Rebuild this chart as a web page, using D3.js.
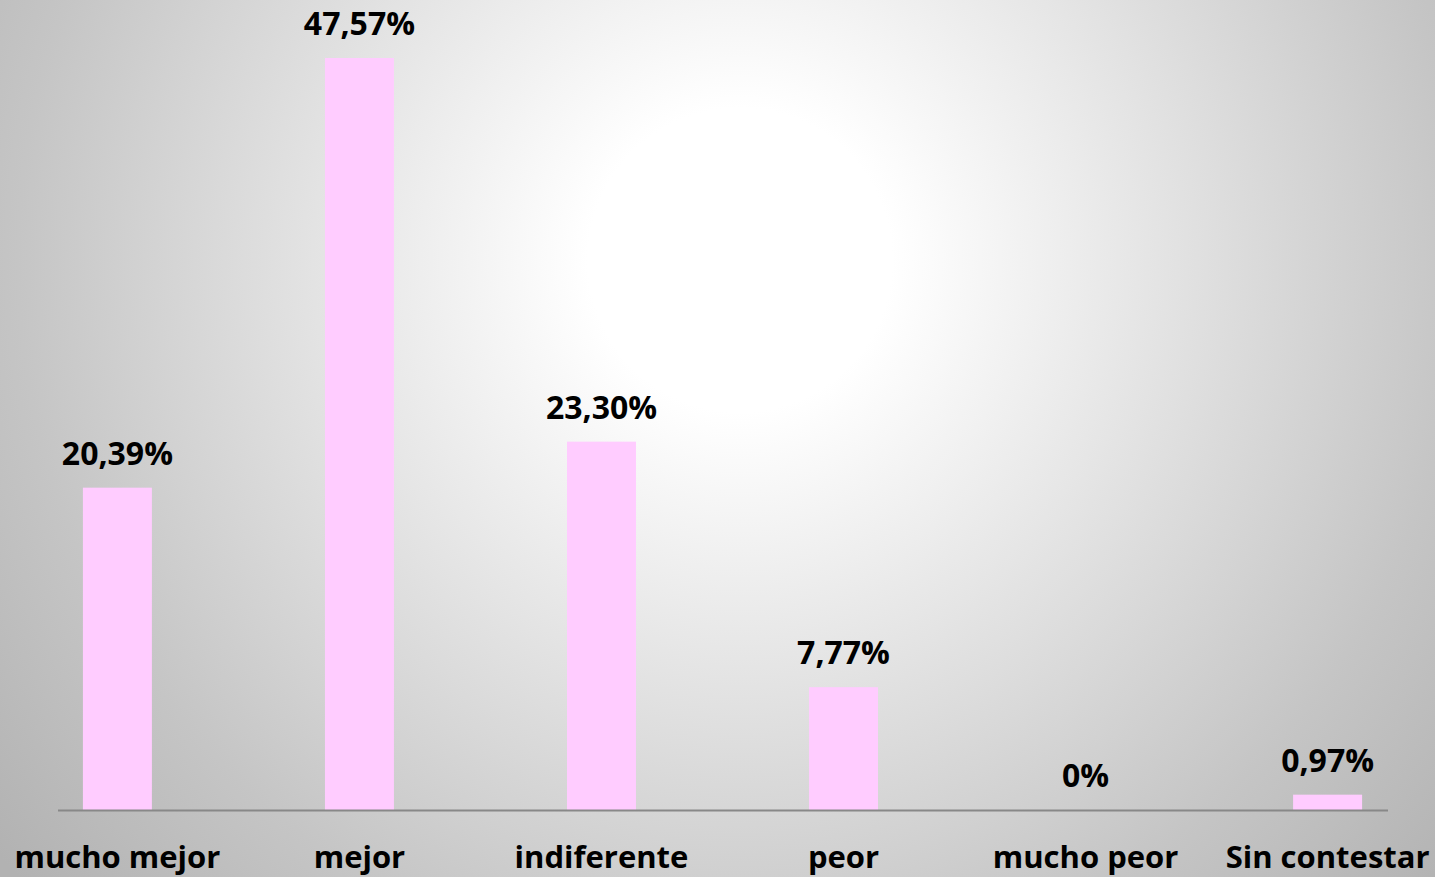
<!DOCTYPE html>
<html>
<head>
<meta charset="utf-8">
<script src="https://cdn.jsdelivr.net/npm/d3@7"></script>
<style>
  html, body { margin: 0; padding: 0; overflow: hidden; }
  svg { display: block; }
</style>
</head>
<body>
<svg id="chart" width="1435" height="877"></svg>
<script>
let categories = ["mucho mejor", "mejor", "indiferente", "peor", "mucho peor", "Sin contestar"];
let values = [20.39, 47.57, 23.30, 7.77, 0, 0.97];
let valueLabels = ["20,39%", "47,57%", "23,30%", "7,77%", "0%", "0,97%"];

function drawChart() {
    let canvas = d3.select("#chart");
    let width = 1435;
    let height = 877;
    let baseY = 810;
    let topY = 58;
    let font = "'Open Sans', sans-serif";

    // soft radial background, white in the middle, gray at the edges
    let defs = canvas.append("defs");
    let grad = defs.append("radialGradient")
        .attr("id", "bg")
        .attr("gradientUnits", "userSpaceOnUse")
        .attr("cx", 740).attr("cy", 260)
        .attr("r", 950);
    grad.append("stop").attr("offset", "0%").attr("stop-color", "#ffffff");
    grad.append("stop").attr("offset", "16%").attr("stop-color", "#ffffff");
    grad.append("stop").attr("offset", "76%").attr("stop-color", "#c5c5c5");
    grad.append("stop").attr("offset", "100%").attr("stop-color", "#b2b2b2");

    canvas.append("rect")
        .attr("width", width)
        .attr("height", height)
        .attr("fill", "url(#bg)");

    let x = d3.scaleBand()
        .domain(categories)
        .range([-3.5, 1448.5])
        .paddingInner(0.715)
        .paddingOuter(0.357);
    let y = d3.scaleLinear()
        .domain([0, d3.max(values)])
        .range([baseY, topY]);

    let data = categories.map((c, i) => ({ cat: c, value: values[i], label: valueLabels[i] }));

    canvas.selectAll(".bar").data(data)
        .enter()
        .append("rect")
        .attr("class", "bar")
        .attr("fill", "#ffccff")
        .attr("x", d => x(d.cat))
        .attr("width", x.bandwidth())
        .attr("y", d => y(d.value))
        .attr("height", d => baseY - y(d.value));

    canvas.append("line")
        .attr("x1", 58).attr("x2", 1388)
        .attr("y1", baseY + 0.5).attr("y2", baseY + 0.5)
        .attr("stroke", "#888888")
        .attr("stroke-width", 2);

    canvas.selectAll(".val").data(data)
        .enter()
        .append("text")
        .attr("class", "val")
        .attr("text-anchor", "middle")
        .attr("x", d => x(d.cat) + x.bandwidth() / 2)
        .attr("y", d => y(d.value) - 23)
        .attr("font-family", font)
        .attr("font-weight", "bold")
        .attr("font-size", 32)
        .attr("fill", "#000")
        .text(d => d.label);

    let xAxis = d3.axisBottom(x).tickSize(0).tickPadding(0);
    let axisG = canvas.append("g")
        .attr("transform", "translate(0," + 868 + ")")
        .call(xAxis);
    axisG.select(".domain").remove();
    axisG.selectAll("text")
        .attr("dy", 0)
        .attr("y", 0)
        .attr("font-family", font)
        .attr("font-weight", "bold")
        .attr("font-size", 31)
        .attr("fill", "#000");
}

drawChart();
</script>
</body>
</html>
